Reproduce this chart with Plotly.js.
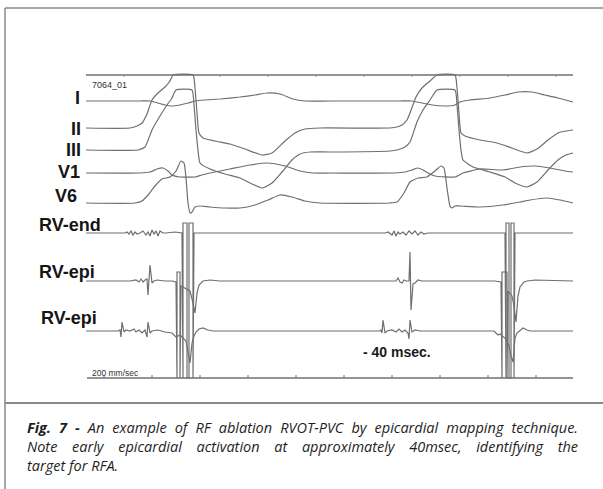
<!DOCTYPE html>
<html>
<head>
<meta charset="utf-8">
<script src="https://cdn.plot.ly/plotly-3.0.1.min.js"></script>
<style>html,body{margin:0;padding:0;background:#fff;}#chart{width:603px;height:489px;}</style>
</head>
<body>
<div id="chart"></div>
<script>
// ---------- DATA (time axis in recording units, amplitude relative to each channel's baseline, positive = up) ----------
const leadI_t = [86,140,150,158,165,172,180,188,195,205,220,240,255,267,280,293,305,330,380,400,412,422,432,445,455,460,470,490,505,518,532,545,558,573];
const leadI_v = [0,0,0,-2,-4,-5,-4,-2,0,1,2,4,6,8,7,2,0,0,0,0,0,-2,-4,-5,-4,-1,1,3,6,9,9,6,3,-1];

const leadII_t = [86,130,137,142,147,152,158,165,170,173,193,195,197,199,203,215,230,245,262,272,285,295,305,320,390,397,402,407,410,416,422,430,437,455,457,459,461,465,480,497,512,527,537,548,558,566,573];
const leadII_v = [0,0,2,5,14,28,35,41,47,53,53,40,15,-5,-10,-13,-16,-21,-27,-25,-13,-5,-1,0,0,1,3,8,15,31,40,47,53,53,40,15,-5,-8,-12,-15,-20,-25,-21,-12,-5,-3,-2];

const leadIII_t = [86,138,145,152,160,167,172,176,192,194,196,198,200,210,225,240,252,262,272,282,292,300,310,330,390,397,405,410,417,423,430,437,455,457,459,461,463,473,490,505,515,527,537,548,558,566,573];
const leadIII_v = [0,0,3,20,34,45,52,60,60,45,20,0,-13,-19,-24,-28,-34,-38,-33,-22,-10,-4,-2,-2,-1,0,3,8,28,40,50,60,60,45,20,0,-10,-17,-22,-27,-33,-37,-32,-20,-10,-5,-3];

const leadV1_t = [86,140,150,157,163,168,172,180,195,202,215,230,250,267,285,300,313,330,395,405,412,418,423,428,435,455,463,480,503,520,535,550,565,573];
const leadV1_v = [0,0,1,4,5,2,-2,-4,-4,-2,1,4,8,10,7,2,0,0,0,1,3,5,3,0,-3,-4,0,4,3,6,7,5,2,1];

const leadV6_t = [86,135,142,148,155,162,170,176,181,184,186,188,190,192,195,200,210,225,240,255,268,280,292,305,320,390,397,404,410,418,427,435,441,444,447,450,452,455,460,480,503,520,530,547,560,573];
const leadV6_v = [0,0,2,8,17,24,26,32,42,40,25,0,-10,-9,-4,-3,-4,-5,-5,-2,3,8,6,2,0,0,1,10,21,25,26,32,37,35,15,-3,-5,-3,-3,-4,-2,1,3,5,3,0];

const rvEnd_t = [86,125,127,129,131,133,135,137,140,143,146,148,150,152,154,156,158,160,163,166,175,182,183,183,187,187,189,189,193,193,194,200,385,388,390,392,394,396,398,400,403,406,409,412,415,418,421,424,428,505,506,506,509,509,511,511,514,514,515,520,573];
const rvEnd_v = [0,0,1,-1,2,-2,1,-1,0,2,-2,1,-3,3,-1,2,-3,2,0,0,1,0,-145,10,10,-145,-145,10,10,-145,0,0,0,1,-1,-2,2,-3,1,-1,1,-2,2,-1,2,-2,1,-1,0,0,-145,10,10,-145,-145,10,10,-145,0,0,0];

const rvEpi1_t = [86,130,136,139,141,143,145,147,148,150,152,154,157,165,172,176,177,177,180,180,181,190,193,195,197,199,203,210,220,390,396,398,400,402,404,406,409,410,411,413,415,418,422,495,501,502,502,507,507,508,512,514,516,518,520,524,527,535,573];
const rvEpi1_v = [0,0,1,-1,2,-1,1,2,-14,16,-2,0,1,0,0,-1,-97,9,9,-97,-5,-10,-22,-32,-12,-4,0,1,0,0,0,3,-1,-2,1,0,0,29,-29,-3,-2,1,0,0,-1,-97,9,9,-97,-10,-15,-25,-41,-15,-6,-1,0,1,0];

const rvEpi2_t = [86,118,120,121,122,124,126,130,134,136,139,142,145,147,148,150,152,158,165,172,176,180,186,188,190,192,194,196,199,203,208,213,380,381,382,383,385,387,392,396,399,402,405,408,409,410,412,415,420,494,498,500,506,509,511,513,515,517,520,523,527,530,573];
const rvEpi2_v = [0,0,1,-6,9,-1,1,0,2,-1,1,-2,1,-6,9,-2,0,1,-1,-2,-6,-4,-10,-20,-32,-12,-5,-1,2,3,1,0,0,1,-2,11,-2,0,1,-1,2,-1,1,-2,-8,11,-1,1,0,0,-4,-3,-8,-15,-25,-31,-7,-2,1,3,1,0,0];

const channelNames = ["I","II","III","V1","V6","RV-end","RV-epi","RV-epi"];
const scaleLabel = "7064_01";
const speedLabel = "200 mm/sec";
const intervalLabel = "- 40 msec.";
const captionLines = [
  "<b><i>Fig. 7 -</i></b><i> An example of RF ablation RVOT-PVC by epicardial mapping technique.</i>",
  "<i>Note early epicardial activation at approximately 40msec, identifying the</i>",
  "<i>target for RFA.</i>"
];

// ---------- LAYOUT CONFIG ----------
const channels = [
  {t: leadI_t,  v: leadI_v,  base: 101, smooth: true,  lab: {x: 82, y: 98,  anchor: 'right'}},
  {t: leadII_t, v: leadII_v, base: 128, smooth: true,  lab: {x: 83, y: 129, anchor: 'right'}},
  {t: leadIII_t,v: leadIII_v,base: 150, smooth: true,  lab: {x: 83, y: 150, anchor: 'right'}},
  {t: leadV1_t, v: leadV1_v, base: 173, smooth: true,  lab: {x: 82, y: 172, anchor: 'right'}},
  {t: leadV6_t, v: leadV6_v, base: 203, smooth: true,  lab: {x: 79, y: 196, anchor: 'right'}},
  {t: rvEnd_t,  v: rvEnd_v,  base: 233, smooth: false, lab: {x: 37, y: 225, anchor: 'left'}},
  {t: rvEpi1_t, v: rvEpi1_v, base: 281, smooth: false, lab: {x: 37, y: 272, anchor: 'left'}},
  {t: rvEpi2_t, v: rvEpi2_v, base: 331, smooth: false, lab: {x: 39, y: 318, anchor: 'left'}}
];
const traceColor = '#6f6f6f';
const labelFont = {family: 'Liberation Sans, Arial, sans-serif', size: 18, color: '#151515', weight: 'bold'};

const traces = channels.map(c => ({
  type: 'scatter', mode: 'lines', hoverinfo: 'skip',
  x: c.t, y: c.v.map(a => c.base - a),
  line: {color: traceColor, width: 1.2, shape: c.smooth ? 'spline' : 'linear', smoothing: 0.5}
}));

const annotations = channels.map((c, i) => ({
  x: c.lab.x, y: c.lab.y, xref: 'x', yref: 'y', showarrow: false,
  text: '<b>' + channelNames[i] + '</b>', xanchor: c.lab.anchor, yanchor: 'middle',
  font: labelFont
}));
annotations.push({x: 90, y: 85, xref: 'x', yref: 'y', showarrow: false, xanchor: 'left', yanchor: 'middle',
  text: scaleLabel, font: {family: 'Liberation Sans, Arial, sans-serif', size: 9, color: '#333'}});
annotations.push({x: 90, y: 373, xref: 'x', yref: 'y', showarrow: false, xanchor: 'left', yanchor: 'middle',
  text: speedLabel, font: {family: 'Liberation Sans, Arial, sans-serif', size: 8.5, color: '#333'}});
annotations.push({x: 361, y: 352, xref: 'x', yref: 'y', showarrow: false, xanchor: 'left', yanchor: 'middle',
  text: '<b>' + intervalLabel + '</b>', font: {family: 'Liberation Sans, Arial, sans-serif', size: 14, color: '#1a1a1a'}});
const capY = [427, 446, 465];
captionLines.forEach((txt, i) => annotations.push({
  x: 25, y: capY[i], xref: 'x', yref: 'y', showarrow: false, xanchor: 'left', yanchor: 'middle', align: 'left',
  text: txt, font: {family: 'Open Sans, sans-serif', size: 14.5, color: '#1e1e1e'}
}));

const shapes = [
  // page frame
  {type: 'line', x0: 5, x1: 603, y0: 8, y1: 8, line: {color: '#8a8a8a', width: 1.5}},
  {type: 'line', x0: 5, x1: 5, y0: 8, y1: 489, line: {color: '#8a8a8a', width: 1.5}},
  {type: 'line', x0: 5, x1: 603, y0: 403, y1: 403, line: {color: '#8a8a8a', width: 2}},
  // recording frame lines
  {type: 'line', x0: 86, x1: 573, y0: 75, y1: 75, line: {color: traceColor, width: 1.3}},
  {type: 'line', x0: 87, x1: 573, y0: 378, y1: 378, line: {color: traceColor, width: 1.3}}
];
for (let tx = 104; tx <= 560; tx += 48) {
  shapes.push({type: 'line', x0: tx, x1: tx, y0: 378, y1: 375, line: {color: traceColor, width: 1}});
  shapes.push({type: 'line', x0: tx + 20, x1: tx + 20, y0: 75, y1: 77, line: {color: '#999', width: 1}});
}

const layout = {
  width: 603, height: 489, margin: {l: 0, r: 0, t: 0, b: 0},
  paper_bgcolor: '#fff', plot_bgcolor: '#fff', showlegend: false,
  xaxis: {range: [0, 603], visible: false, fixedrange: true},
  yaxis: {range: [489, 0], visible: false, fixedrange: true},
  annotations: annotations, shapes: shapes
};

Plotly.newPlot('chart', traces, layout, {staticPlot: true, displayModeBar: false}).then(() => {
  // justify the first two caption lines (span 27 -> 578)
  const texts = Array.from(document.querySelectorAll('.annotation-text'));
  const targets = texts.filter(t => /technique\.|identifying the/.test(t.textContent));
  targets.forEach(t => {
    const len = t.getComputedTextLength();
    const spaces = (t.textContent.match(/ /g) || []).length;
    const extra = (551 - len) / spaces;
    t.style.wordSpacing = extra + 'px';
  });
});
</script>
</body>
</html>
